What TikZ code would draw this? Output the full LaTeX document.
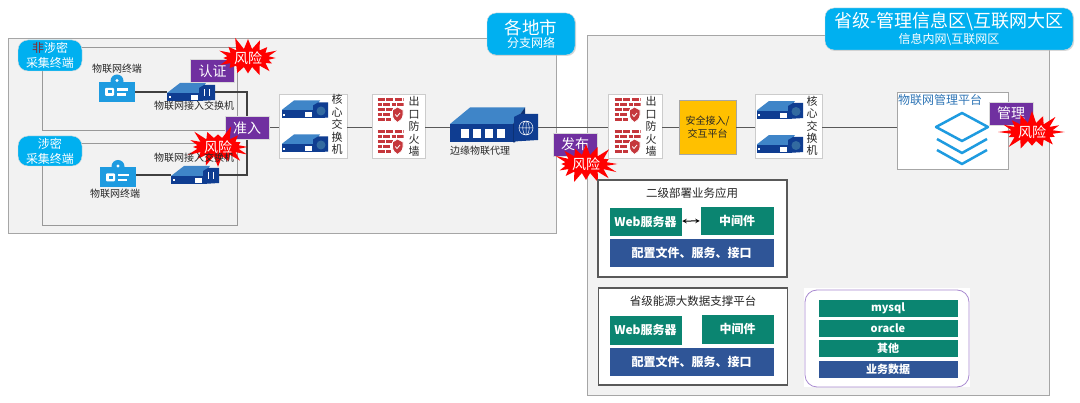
\documentclass[tikz,border=0pt]{standalone}
\usepackage{fontspec}
\setmainfont{Noto Sans CJK SC}
\usepackage{tikz}
\usetikzlibrary{shapes, arrows, positioning, calc, shadows}

\definecolor{panelgray}{HTML}{F2F2F2}
\definecolor{cyanbadge}{HTML}{00B0F0}
\definecolor{tagpurple}{HTML}{7030A0}
\definecolor{iconblue}{HTML}{1E9BE0}
\definecolor{navyblue}{HTML}{0F3D91}
\definecolor{topblue}{HTML}{3F85C8}
\definecolor{brickred}{HTML}{C5373C}
\definecolor{tealgreen}{HTML}{0B8571}
\definecolor{slateblue}{HTML}{2F5597}
\definecolor{amberbox}{HTML}{FFC000}
\definecolor{framepurple}{HTML}{A98AD0}
\definecolor{platformblue}{HTML}{2E75B6}

% icon bodies, drawn around the node centre
\newcommand{\switchbody}{
    \fill[topblue] (-24,1) -- (-11,-9) -- (15,-9) -- (8,1) -- cycle;
    \fill[navyblue] (-24,1) rectangle (8,9);
    \fill[white] (-22,4.5) rectangle (-20,6.5);
    \fill[white] (0,3) rectangle (7,8);
    \fill[navyblue] (8,-4) -- (13,-7) -- (24,-7) -- (24,8) -- (8,9) -- cycle;
}
\tikzset{
    panelbox/.style={draw=black!35, fill=panelgray, minimum width=#1},
    linebox/.style={draw=black!40, minimum width=195pt},
    whitebox/.style={draw=black!20, fill=white, drop shadow={shadow xshift=1pt, shadow yshift=-1pt, fill=black!30}, minimum width=#1, minimum height=64pt},
    cyanbox/.style={draw=black!15, fill=cyanbadge, rounded corners=9pt, text=white, align=center, inner sep=0pt},
    tagbox/.style={fill=tagpurple, draw=black!15, text=white, minimum width=44pt, minimum height=23pt, inner sep=0pt, font=\fontsize{14}{16}\selectfont},
    riskburst/.style={starburst, starburst points=16, starburst point height=13pt, random starburst=#1, fill=red, text=white, inner sep=0pt, minimum width=68pt, minimum height=34pt, font=\fontsize{14}{16}\selectfont},
    caption/.style={text=black!85, inner sep=0pt, font=\fontsize{10}{12}\selectfont},
    upright/.style={text=black!85, inner sep=0pt, align=center, font=\fontsize{11}{12.4}\selectfont},
    tealbox/.style={fill=tealgreen, draw=white, text=white, inner sep=0pt, font=\fontsize{12}{14}\selectfont\bfseries},
    bluebox/.style={fill=slateblue, draw=white, text=white, inner sep=0pt, font=\fontsize{12}{14}\selectfont\bfseries},
    rowfont/.style={font=\fontsize{11}{13}\selectfont\bfseries},
    groupbox/.style={draw=black!65, line width=1.2pt, fill=white, minimum width=189pt, minimum height=97pt},
    grouptitle/.style={text=black!85, inner sep=0pt, font=\fontsize{11.5}{14}\selectfont},
    linkline/.style={draw=black!75, line width=1.5pt},
    busline/.style={draw=black!65, line width=1pt},
    layerline/.style={draw=iconblue, line width=2.5pt, line join=round},
    termicon/.style={minimum width=36pt, minimum height=27pt, inner sep=0pt, path picture={
        \begin{scope}[shift=(path picture bounding box.center)]
            \fill[iconblue] (-18,-6) rectangle (18,14);
            \fill[iconblue] (0,-7) circle (6.5);
            \fill[white] (0,-7.5) circle (1.6);
            \fill[white, rounded corners=1pt] (-12,0) rectangle (-3,8);
            \fill[iconblue] (-9.5,2.5) rectangle (-5.5,5.5);
            \fill[white] (0,0.5) rectangle (11,3);
            \fill[white] (0,5.5) rectangle (9,8);
        \end{scope}}},
    accessicon/.style={minimum width=48pt, minimum height=18pt, inner sep=0pt, path picture={
        \begin{scope}[shift=(path picture bounding box.center)]
            \switchbody
            \draw[white, line width=0.7pt] (13,-3) -- (13,4) (18,-3) -- (18,4);
        \end{scope}}},
    coreicon/.style={minimum width=46pt, minimum height=17pt, inner sep=0pt, path picture={
        \begin{scope}[shift=(path picture bounding box.center), xscale=0.96, yscale=0.95]
            \switchbody
            \fill[black!20!topblue] (16,1.5) circle (4.5);
        \end{scope}}},
    fwicon/.style={minimum width=26pt, minimum height=25pt, inner sep=0pt, path picture={
        \begin{scope}[shift=(path picture bounding box.center)]
            \draw[brickred, line width=3pt, dash pattern=on 7pt off 1.5pt] (-13,-10.5) -- (13,-10.5);
            \draw[brickred, line width=3pt, dash pattern=on 4pt off 1.5pt on 7pt off 1.5pt] (-13,-5.5) -- (13,-5.5);
            \draw[brickred, line width=3pt, dash pattern=on 7pt off 1.5pt] (-13,-0.5) -- (3,-0.5);
            \draw[brickred, line width=3pt, dash pattern=on 4pt off 1.5pt on 7pt off 1.5pt] (-13,4.5) -- (-1,4.5);
            \draw[brickred, line width=3pt, dash pattern=on 7pt off 1.5pt] (-13,9.5) -- (0,9.5);
            \fill[brickred, draw=white, line width=0.8pt] (2,0) -- (7,-3) -- (12.5,0) -- (12.5,5) .. controls (12.5,9) and (9,11) .. (7,12.5) .. controls (5,11) and (2,9) .. (2,5) -- cycle;
            \draw[white, line width=0.8pt] (4.8,4.5) -- (6.5,6.5) -- (9.5,3);
        \end{scope}}},
    proxyicon/.style={minimum width=88pt, minimum height=35pt, inner sep=0pt, path picture={
        \begin{scope}[shift=(path picture bounding box.center)]
            \fill[topblue] (-44,-1) -- (-24,-17.5) -- (31,-17.5) -- (19,-1) -- cycle;
            \fill[navyblue] (-44,-1) rectangle (19,17.5);
            \fill[white] (-33,4) rectangle (-25,13);
            \fill[white] (-21,4) rectangle (-13,13);
            \fill[white] (-9,4) rectangle (-1,13);
            \fill[white] (3,4) rectangle (11,13);
            \fill[navyblue!80!black] (19,-1) -- (31,-17.5) -- (31,-10) -- (21,17.5) -- (19,17.5) -- cycle;
            \fill[navyblue] (20,-8) -- (26,-11) -- (44,-11) -- (44,15) -- (20,16.5) -- cycle;
            \draw[white, line width=0.5pt] (32,3) circle (7) (25,3) -- (39,3) (32,-4) -- (32,10) (32,3) ellipse (3.2 and 7);
        \end{scope}}},
}

\begin{document}
\begin{tikzpicture}[x=1pt, y=-1pt]
    \useasboundingbox (0,0) rectangle (1080,403);

    % Zones
    \node[panelbox=548pt, minimum height=195pt] (branch) at (282,135.5) {};
    \node[panelbox=462pt, minimum height=360pt] (province) at (818,215) {};
    \node[linebox, minimum height=83pt] (zoneone) at (139.5,88.5) {};
    \node[linebox, minimum height=82pt] (zonetwo) at (139.5,184) {};
    \coordinate (bus) at (0,128);

    % Branch devices
    \node[termicon] (termone) at (117,88) {};
    \node[termicon] (termtwo) at (118,173.5) {};
    \node[accessicon] (accessone) at (191,92) {};
    \node[accessicon] (accesstwo) at (195,175) {};
    \node[caption] (termonelabel) at (117,69) {物联网终端};
    \node[caption] (termtwolabel) at (115,194) {物联网终端};

    \node[whitebox=68pt] (coreone) at (313,126) {};
    \node[coreicon] (coreoneup) at (305,109.5) {};
    \node[coreicon] (coreonedown) at (305,143.5) {};
    \node[upright] (coreonetext) at (337,124.5) {核\\心\\交\\换\\机};

    \node[whitebox=53pt] (fwone) at (398.5,126) {};
    \node[fwicon] (fwoneup) at (390.5,110) {};
    \node[fwicon] (fwonedown) at (390.5,142) {};
    \node[upright] (fwonetext) at (414,126.5) {出\\口\\防\\火\\墙};

    \node[proxyicon] (proxy) at (494,125) {};
    \node[caption] (proxytext) at (480,151) {边缘物联代理};

    % Province devices
    \node[whitebox=54pt] (fwtwo) at (635,126) {};
    \node[fwicon] (fwtwoup) at (627.5,110) {};
    \node[fwicon] (fwtwodown) at (627.5,142) {};
    \node[upright] (fwtwotext) at (651,126.5) {出\\口\\防\\火\\墙};

    \node[draw=black!35, fill=amberbox, minimum width=57pt, minimum height=54pt, inner sep=0pt, align=center, text=black!85, font=\fontsize{10}{12.5}\selectfont] (gateway) at (707.5,127) {安全接入/\\交互平台};

    \node[whitebox=67pt] (coretwo) at (788.5,126) {};
    \node[coreicon] (coretwoup) at (780,110) {};
    \node[coreicon] (coretwodown) at (780,144) {};
    \node[upright] (coretwotext) at (812,126) {核\\心\\交\\换\\机};

    \node[draw=black!35, fill=white, minimum width=111pt, minimum height=77pt] (platform) at (952.5,130.5) {};
    \node[inner sep=0pt, text=platformblue, font=\fontsize{12}{14}\selectfont] (platformtext) at (940,100) {物联网管理平台};
    \draw[layerline] (936,127) -- (962,113) -- (988,127) -- (962,141) -- cycle;
    \draw[layerline] (937,139) -- (962,153) -- (987,139);
    \draw[layerline] (937,150) -- (962,164) -- (987,150);

    % Links
    \draw[linkline] (termone.east |- accessone) -- (accessone.west);
    \draw[linkline] (termtwo.east |- accesstwo) -- (accesstwo.west);
    \draw[linkline] (accessone.east) -| (247,175) -- (accesstwo.east);
    \draw[busline] (269,128) -- (coreone.west |- bus);
    \draw[busline] (coreone.east |- bus) -- (fwone.west |- bus);
    \draw[busline] (fwone.east |- bus) -- (proxy.west |- bus);
    \draw[busline] (proxy.east |- bus) -- (fwtwo.west |- bus);
    \draw[busline] (fwtwo.east |- bus) -- (gateway.west |- bus);
    \draw[busline] (gateway.east |- bus) -- (coretwo.west |- bus);
    \draw[busline] (coretwo.east |- bus) -- (platform.west |- bus);

    % Area titles
    \node[cyanbox, minimum width=88pt, minimum height=42pt, drop shadow={shadow xshift=1pt, shadow yshift=-1pt, fill=black!30}] (branchtitle) at (531,34) {{\fontsize{17.5}{20}\selectfont 各地市}\\[1pt]{\fontsize{12}{13}\selectfont 分支网络}};
    \node[cyanbox, minimum width=248pt, minimum height=42pt, drop shadow={shadow xshift=1pt, shadow yshift=-1pt, fill=black!30}] (provincetitle) at (949,29) {{\fontsize{18}{20}\selectfont 省级-管理信息区\textbackslash 互联网大区}\\[1pt]{\fontsize{12}{13}\selectfont 信息内网\textbackslash 互联网区}};
    \node[cyanbox, rounded corners=10pt, minimum width=64pt, minimum height=31pt, font=\fontsize{12}{15}\selectfont] (secretone) at (50,55.5) {{\color{brickred!70!black}非}涉密\\采集终端};
    \node[cyanbox, rounded corners=10pt, minimum width=64pt, minimum height=30pt, font=\fontsize{12}{15}\selectfont] (secrettwo) at (50,151) {涉密\\采集终端};

    % Tags
    \node[tagbox] (auth) at (212.5,71) {认证};
    \node[tagbox] (admit) at (247,128) {准入};
    \node[tagbox] (publish) at (575,144.5) {发布};
    \node[tagbox] (manage) at (1011,113.5) {管理};
    \node[riskburst=11] (riskone) at (248,58) {风险};
    \node[riskburst=23] (risktwo) at (218,147) {风险};
    \node[riskburst=37] (riskthree) at (586,164) {风险};
    \node[riskburst=53] (riskfour) at (1032,132) {风险};
    \node[caption] (accessonelabel) at (194,106) {物联网接入交换机};
    \node[caption] (accesstwolabel) at (194,158) {物联网接入交换机};

    % Business groups
    \node[groupbox] (groupone) at (692.5,228.5) {};
    \node[grouptitle] (grouponetitle) at (692,193) {二级部署业务应用};
    \node[tealbox, minimum width=73pt, minimum height=29pt] (webone) at (645.5,221.5) {Web服务器};
    \node[tealbox, minimum width=74pt, minimum height=29pt] (midone) at (737,220.5) {中间件};
    \node[bluebox, minimum width=165pt, minimum height=29pt] (confone) at (691.5,252.5) {配置文件、服务、接口};
    \draw[<->, >=stealth, black, line width=1pt] (webone) -- (midone);

    \node[groupbox] (grouptwo) at (693,336.5) {};
    \node[grouptitle] (grouptwotitle) at (693,301) {省级能源大数据支撑平台};
    \node[tealbox, minimum width=73pt, minimum height=30pt] (webtwo) at (645.5,330) {Web服务器};
    \node[tealbox, minimum width=73pt, minimum height=30pt] (midtwo) at (737.5,329) {中间件};
    \node[bluebox, minimum width=165pt, minimum height=29pt] (conftwo) at (691.5,361.5) {配置文件、服务、接口};

    % Data stores
    \node[fill=white, minimum width=166pt, minimum height=99pt] (dbback) at (887,337.5) {};
    \node[draw=framepurple, line width=0.8pt, rounded corners=12pt, minimum width=164pt, minimum height=97pt] (dbframe) at (887,338.5) {};
    \node[tealbox, rowfont, minimum width=140pt, minimum height=18pt] (mysql) at (888,308) {mysql};
    \node[tealbox, rowfont, minimum width=140pt, minimum height=18pt] (oracle) at (888,328) {oracle};
    \node[tealbox, rowfont, minimum width=140pt, minimum height=18pt] (other) at (888,348.5) {其他};
    \node[bluebox, rowfont, minimum width=140pt, minimum height=18pt] (bizdata) at (888,369) {业务数据};
\end{tikzpicture}
\end{document}
